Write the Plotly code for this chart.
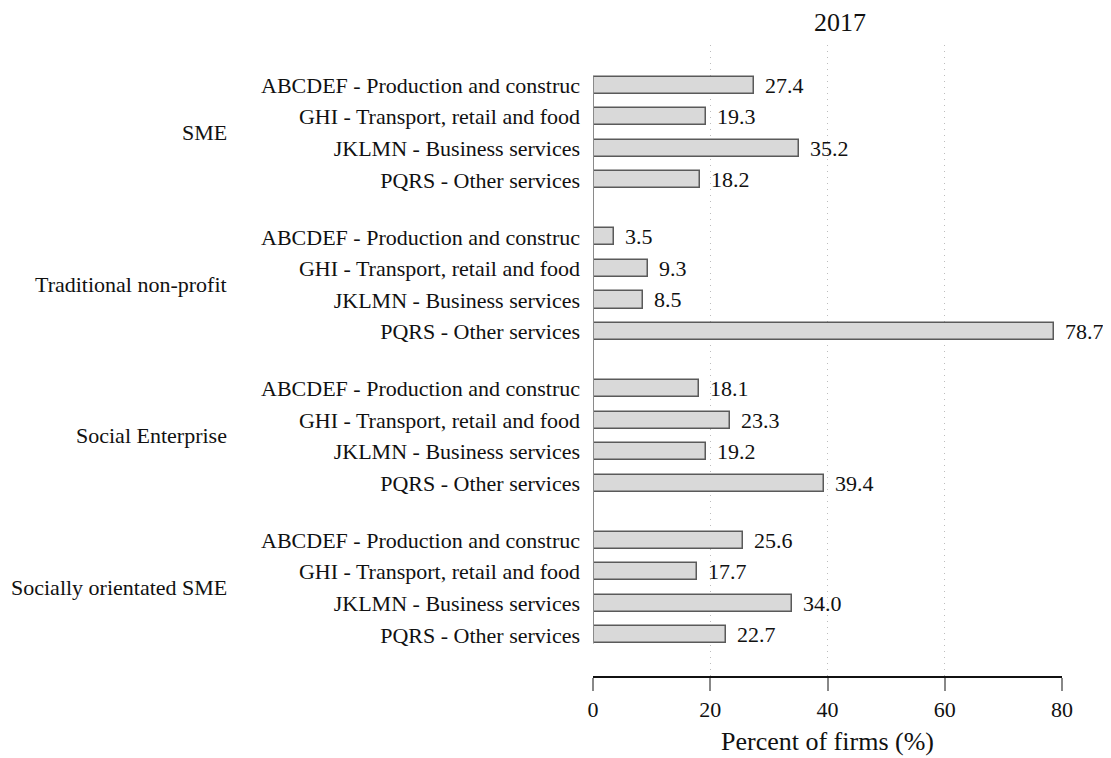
import plotly.graph_objects as go

groups = ["SME", "Traditional non-profit", "Social Enterprise", "Socially orientated SME"]
sectors = ["ABCDEF - Production and construc", "GHI - Transport, retail and food",
           "JKLMN - Business services", "PQRS - Other services"]
values = [
    [27.4, 19.3, 35.2, 18.2],
    [3.5, 9.3, 8.5, 78.7],
    [18.1, 23.3, 19.2, 39.4],
    [25.6, 17.7, 34.0, 22.7],
]
x_ticks = [0, 20, 40, 60, 80]
title_text = "2017"
x_title = "Percent of firms (%)"

FONT = "Liberation Serif"
GROUP_STRIDE = len(sectors) + 0.8
W, H = 1103, 750  # page body has an 8px margin

ys, xs, labels = [], [], []
for g, grp in enumerate(groups):
    for i, s in enumerate(sectors):
        ys.append(g * GROUP_STRIDE + i)
        xs.append(values[g][i])
        labels.append(s)

fig = go.Figure()
fig.add_trace(go.Bar(
    x=xs, y=ys, orientation="h", width=0.54,
    marker=dict(color="#d9d9d9", line=dict(color="#5a5a5a", width=1.5)),
    hoverinfo="x+text", hovertext=labels, showlegend=False,
))

for x, y in zip(xs, ys):
    fig.add_annotation(x=x, y=y, text=f"{x:.1f}", xref="x", yref="y",
                       xanchor="left", yanchor="middle", xshift=9, showarrow=False,
                       font=dict(family=FONT, size=22, color="#111"))

for g, grp in enumerate(groups):
    fig.add_annotation(x=0, xref="paper", xshift=-364, y=g * GROUP_STRIDE + (len(sectors) - 1) / 2,
                       yref="y", text=grp, xanchor="right", yanchor="middle", showarrow=False,
                       font=dict(family=FONT, size=22, color="#111"))

# base line at zero spanning the bars
fig.add_shape(type="line", xref="x", yref="y", x0=0, x1=0,
              y0=ys[0] - 0.27, y1=ys[-1] + 0.27, line=dict(color="#8a8a8a", width=2))

top = ys[0] - 1.27
bottom = ys[-1] + 1.30
fig.update_layout(
    width=W, height=H,
    margin=dict(l=585, r=49, t=37, b=82, autoexpand=False),
    plot_bgcolor="white", paper_bgcolor="white",
    font=dict(family=FONT, size=22, color="#111"),
    title=dict(text=title_text, x=832 / W, xanchor="center", xref="container",
               y=1 - 14 / H, yanchor="middle", yref="container", automargin=False,
               font=dict(family=FONT, size=26, color="#111")),
    xaxis=dict(range=[0, 80], tickvals=x_ticks, ticks="outside", ticklen=13, tickcolor="#888",
               tickwidth=1.5, showline=True, linecolor="#111", linewidth=2, automargin=False,
               showgrid=True, gridcolor="#bdbdbd", griddash="1px,5px", gridwidth=1,
               zeroline=False, tickfont=dict(family=FONT, size=22, color="#111"),
               title=dict(text=x_title, font=dict(family=FONT, size=26, color="#111"), standoff=10)),
    yaxis=dict(range=[bottom, top], tickvals=ys, ticktext=labels, showgrid=False, automargin=False,
               zeroline=False, showline=False, ticks="", ticklabelstandoff=12,
               tickfont=dict(family=FONT, size=22, color="#111")),
    bargap=0,
)

fig.write_html("out.html")
